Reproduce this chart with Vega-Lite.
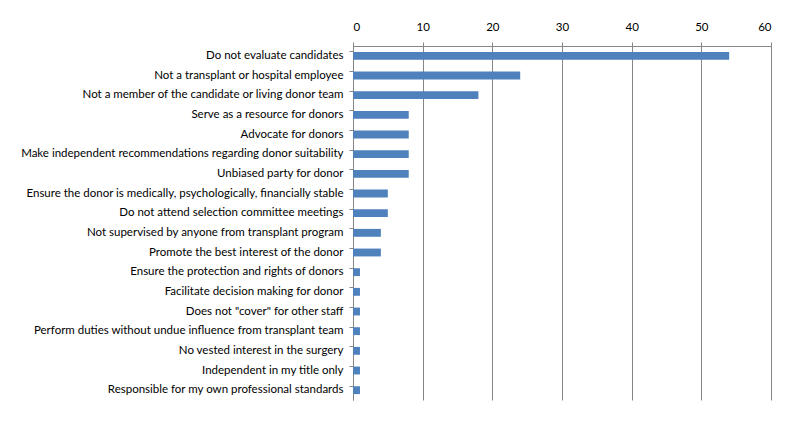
{
  "$schema": "https://vega.github.io/schema/vega-lite/v6.json",
  "width": 418,
  "height": 354,
  "autosize": {"type": "none"},
  "padding": {"left": 353, "top": 46, "right": 29, "bottom": 23},
  "background": "white",
  "config": {
    "view": {"stroke": null},
    "font": "Lato"
  },
  "data": {
    "values": [
      {"label": "Do not evaluate candidates", "count": 54},
      {"label": "Not a transplant or hospital employee", "count": 24},
      {"label": "Not a member of the candidate or living donor team", "count": 18},
      {"label": "Serve as a resource for donors", "count": 8},
      {"label": "Advocate for donors", "count": 8},
      {"label": "Make independent recommendations regarding donor suitability", "count": 8},
      {"label": "Unbiased party for donor", "count": 8},
      {"label": "Ensure the donor is medically, psychologically, financially stable", "count": 5},
      {"label": "Do not attend selection committee meetings", "count": 5},
      {"label": "Not supervised by anyone from transplant program", "count": 4},
      {"label": "Promote the best interest of the donor", "count": 4},
      {"label": "Ensure the protection and rights of donors", "count": 1},
      {"label": "Facilitate decision making for donor", "count": 1},
      {"label": "Does not \"cover\" for other staff", "count": 1},
      {"label": "Perform duties without undue influence from transplant team", "count": 1},
      {"label": "No vested interest in the surgery", "count": 1},
      {"label": "Independent in my title only", "count": 1},
      {"label": "Responsible for my own professional standards", "count": 1}
    ]
  },
  "layer": [
    {
      "mark": {"type": "bar", "color": "#4F81BD"},
      "encoding": {
        "y": {
          "field": "label",
          "type": "nominal",
          "sort": null,
          "scale": {"paddingInner": 0.6, "paddingOuter": 0.3},
          "axis": {
            "title": null,
            "ticks": false,
            "domain": true,
            "domainColor": "#868686",
            "labelFont": "Lato",
            "labelFontSize": 11.5,
            "labelColor": "#000000",
            "labelPadding": 10,
            "labelLimit": 400
          }
        },
        "x": {
          "field": "count",
          "type": "quantitative",
          "scale": {"domain": [0, 60], "nice": false},
          "axis": {
            "orient": "top",
            "title": null,
            "values": [0, 10, 20, 30, 40, 50, 60],
            "grid": true,
            "gridColor": "#868686",
            "gridWidth": 1,
            "domainColor": "#868686",
            "tickColor": "#868686",
            "tickSize": 4,
            "labelFont": "Lato",
            "labelFontSize": 11.5,
            "labelColor": "#000000",
            "labelPadding": 10
          }
        }
      }
    },
    {
      "mark": {"type": "bar", "opacity": 0},
      "encoding": {
        "y": {
          "field": "label",
          "type": "nominal",
          "sort": null,
          "axis": {
            "orient": "left",
            "title": null,
            "labels": false,
            "domain": false,
            "ticks": true,
            "bandPosition": 0,
            "tickColor": "#868686",
            "tickSize": 4
          }
        },
        "x": {"field": "count", "type": "quantitative"}
      }
    }
  ],
  "resolve": {"axis": {"y": "independent"}}
}
